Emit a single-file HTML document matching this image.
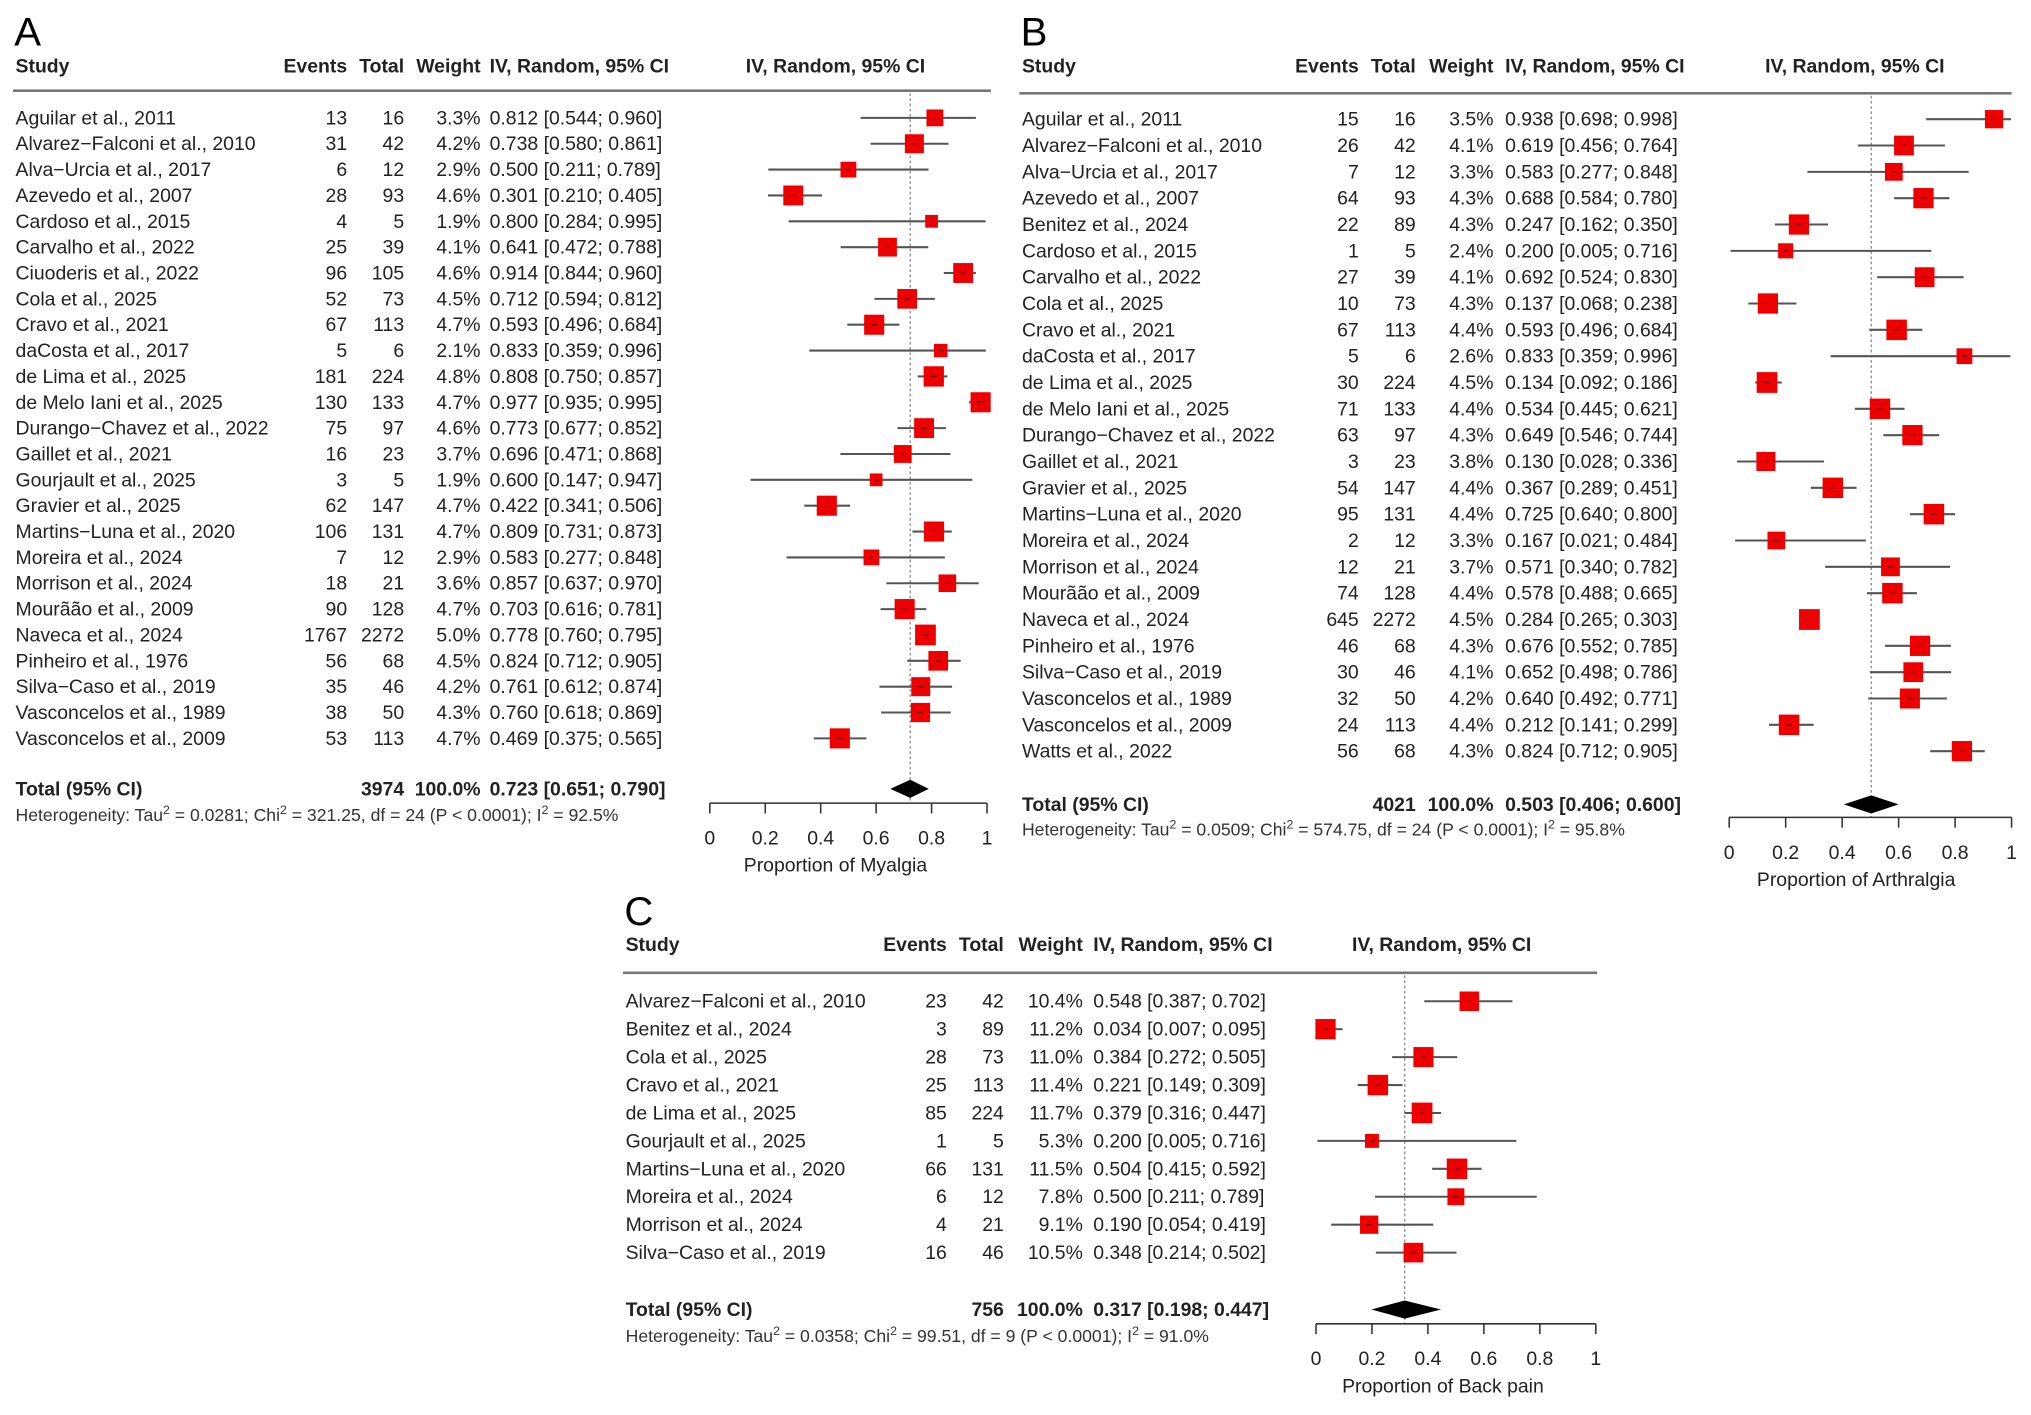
<!DOCTYPE html>
<html><head><meta charset="utf-8"><style>
html,body{margin:0;padding:0;background:#fff}
svg{display:block;font-family:"Liberation Sans",Arial,sans-serif}
</style></head><body>
<svg id="fig" xmlns="http://www.w3.org/2000/svg" width="2031" height="1415" viewBox="0 0 1568 1092.4"></svg>
<script>
const studiesA = ["Aguilar et al., 2011","Alvarez\u2212Falconi et al., 2010","Alva\u2212Urcia et al., 2017","Azevedo et al., 2007","Cardoso et al., 2015","Carvalho et al., 2022","Ciuoderis et al., 2022","Cola et al., 2025","Cravo et al., 2021","daCosta et al., 2017","de Lima et al., 2025","de Melo Iani et al., 2025","Durango\u2212Chavez et al., 2022","Gaillet et al.,  2021","Gourjault  et al., 2025","Gravier et al., 2025","Martins\u2212Luna et al., 2020","Moreira et al., 2024","Morrison et al., 2024","Mour\u00e3\u00e3o et al., 2009","Naveca et al., 2024","Pinheiro et al., 1976","Silva\u2212Caso et al., 2019","Vasconcelos et al., 1989","Vasconcelos et al., 2009"];
const eventsA = [13,31,6,28,4,25,96,52,67,5,181,130,75,16,3,62,106,7,18,90,1767,56,35,38,53];
const totalsA = [16,42,12,93,5,39,105,73,113,6,224,133,97,23,5,147,131,12,21,128,2272,68,46,50,113];
const weightsA = [3.3,4.2,2.9,4.6,1.9,4.1,4.6,4.5,4.7,2.1,4.8,4.7,4.6,3.7,1.9,4.7,4.7,2.9,3.6,4.7,5.0,4.5,4.2,4.3,4.7];
const estA = [0.812,0.738,0.500,0.301,0.800,0.641,0.914,0.712,0.593,0.833,0.808,0.977,0.773,0.696,0.600,0.422,0.809,0.583,0.857,0.703,0.778,0.824,0.761,0.760,0.469];
const lowA = [0.544,0.580,0.211,0.210,0.284,0.472,0.844,0.594,0.496,0.359,0.750,0.935,0.677,0.471,0.147,0.341,0.731,0.277,0.637,0.616,0.760,0.712,0.612,0.618,0.375];
const highA = [0.960,0.861,0.789,0.405,0.995,0.788,0.960,0.812,0.684,0.996,0.857,0.995,0.852,0.868,0.947,0.506,0.873,0.848,0.970,0.781,0.795,0.905,0.874,0.869,0.565];
const pooledA = [0.723,0.651,0.790];

const studiesB = ["Aguilar et al., 2011","Alvarez\u2212Falconi et al., 2010","Alva\u2212Urcia et al., 2017","Azevedo et al., 2007","Benitez et al., 2024","Cardoso et al., 2015","Carvalho et al., 2022","Cola et al., 2025","Cravo et al., 2021","daCosta et al., 2017","de Lima et al., 2025","de Melo Iani et al., 2025","Durango\u2212Chavez et al., 2022","Gaillet et al.,  2021","Gravier et al., 2025","Martins\u2212Luna et al., 2020","Moreira et al., 2024","Morrison et al., 2024","Mour\u00e3\u00e3o et al., 2009","Naveca et al., 2024","Pinheiro et al., 1976","Silva\u2212Caso et al., 2019","Vasconcelos et al., 1989","Vasconcelos et al., 2009","Watts et al., 2022"];
const eventsB = [15,26,7,64,22,1,27,10,67,5,30,71,63,3,54,95,2,12,74,645,46,30,32,24,56];
const totalsB = [16,42,12,93,89,5,39,73,113,6,224,133,97,23,147,131,12,21,128,2272,68,46,50,113,68];
const weightsB = [3.5,4.1,3.3,4.3,4.3,2.4,4.1,4.3,4.4,2.6,4.5,4.4,4.3,3.8,4.4,4.4,3.3,3.7,4.4,4.5,4.3,4.1,4.2,4.4,4.3];
const estB = [0.938,0.619,0.583,0.688,0.247,0.200,0.692,0.137,0.593,0.833,0.134,0.534,0.649,0.130,0.367,0.725,0.167,0.571,0.578,0.284,0.676,0.652,0.640,0.212,0.824];
const lowB = [0.698,0.456,0.277,0.584,0.162,0.005,0.524,0.068,0.496,0.359,0.092,0.445,0.546,0.028,0.289,0.640,0.021,0.340,0.488,0.265,0.552,0.498,0.492,0.141,0.712];
const highB = [0.998,0.764,0.848,0.780,0.350,0.716,0.830,0.238,0.684,0.996,0.186,0.621,0.744,0.336,0.451,0.800,0.484,0.782,0.665,0.303,0.785,0.786,0.771,0.299,0.905];
const pooledB = [0.503,0.406,0.600];

const studiesC = ["Alvarez\u2212Falconi et al., 2010","Benitez et al., 2024","Cola et al., 2025","Cravo et al., 2021","de Lima et al., 2025","Gourjault  et al., 2025","Martins\u2212Luna et al., 2020","Moreira et al., 2024","Morrison et al., 2024","Silva\u2212Caso et al., 2019"];
const eventsC = [23,3,28,25,85,1,66,6,4,16];
const totalsC = [42,89,73,113,224,5,131,12,21,46];
const weightsC = [10.4,11.2,11.0,11.4,11.7,5.3,11.5,7.8,9.1,10.5];
const estC = [0.548,0.034,0.384,0.221,0.379,0.200,0.504,0.500,0.190,0.348];
const lowC = [0.387,0.007,0.272,0.149,0.316,0.005,0.415,0.211,0.054,0.214];
const highC = [0.702,0.095,0.505,0.309,0.447,0.716,0.592,0.789,0.419,0.502];
const pooledC = [0.317,0.198,0.447];

const tickLabels = ["0","0.2","0.4","0.6","0.8","1"];
const tickVals = [0,0.2,0.4,0.6,0.8,1];

const NS="http://www.w3.org/2000/svg";
const svg=document.getElementById('fig');
function el(tag,attrs,parent,txt){const e=document.createElementNS(NS,tag);for(const k in attrs)e.setAttribute(k,attrs[k]);if(txt!==undefined)e.textContent=txt;(parent||svg).appendChild(e);return e;}
function f3(v){return v.toFixed(3);}
const FS=15;

function panel(cfg){
  const g=el('g',{});
  
  
  const L=el('text',{x:cfg.x0-1,y:cfg.letterY,'font-size':31},g,cfg.letter);
  
  const hdr=el('g',{'font-size':FS,'font-weight':'bold',fill:'#222'},g);
  
  el('text',{x:cfg.x0,y:cfg.hY},hdr,'Study');
  el('text',{x:cfg.cEv,y:cfg.hY,'text-anchor':'end'},hdr,'Events');
  el('text',{x:cfg.cTot,y:cfg.hY,'text-anchor':'end'},hdr,'Total');
  el('text',{x:cfg.cW,y:cfg.hY,'text-anchor':'end'},hdr,'Weight');
  el('text',{x:cfg.cCI,y:cfg.hY},hdr,'IV, Random, 95% CI');
  el('text',{x:cfg.plotHdr,y:cfg.hY,'text-anchor':'middle'},hdr,'IV, Random, 95% CI');
  const hl=el('line',{x1:cfg.x0-2,x2:cfg.lineEnd,y1:cfg.lineY,y2:cfg.lineY,stroke:'#777','stroke-width':2},g);
  
  const sx=v=>cfg.ax0+v*(cfg.ax1-cfg.ax0);
  const wmax=Math.max(...cfg.w);
  const ry=i=>cfg.r0+i*cfg.dr;
  const ref=el('line',{x1:sx(cfg.pooled[0]),x2:sx(cfg.pooled[0]),y1:cfg.lineY+2,y2:cfg.axY,stroke:'#888','stroke-width':1,'stroke-dasharray':'2,2'},g);
  
  cfg.s.forEach((name,i)=>{
    const y=ry(i);
    const row=el('g',{'font-size':FS,fill:'#222'},g);
    
    el('text',{x:cfg.x0,y:y+5},row,name);
    el('text',{x:cfg.cEv,y:y+5,'text-anchor':'end'},row,cfg.e[i]);
    el('text',{x:cfg.cTot,y:y+5,'text-anchor':'end'},row,cfg.t[i]);
    el('text',{x:cfg.cW,y:y+5,'text-anchor':'end'},row,cfg.w[i].toFixed(1)+'%');
    el('text',{x:cfg.cCI,y:y+5},row,f3(cfg.est[i])+' ['+f3(cfg.lo[i])+'; '+f3(cfg.hi[i])+']');
    const ci=el('line',{x1:sx(cfg.lo[i]),x2:sx(cfg.hi[i]),y1:y,y2:y,stroke:'#555','stroke-width':1.6},row);
    
    const sz=16*Math.sqrt(cfg.w[i]/wmax);
    const sq=el('rect',{x:sx(cfg.est[i])-sz/2,y:y-sz/2,width:sz,height:sz,fill:'#ee0000'},row);
    
    el('line',{x1:sx(cfg.est[i])-2,x2:sx(cfg.est[i])+2,y1:y,y2:y,stroke:'#600','stroke-width':1},row);
  });
  const tg=el('g',{'font-size':FS,'font-weight':'bold',fill:'#222'},g);
  
  el('text',{x:cfg.x0,y:cfg.totY+5},tg,'Total (95% CI)');
  el('text',{x:cfg.cTot,y:cfg.totY+5,'text-anchor':'end'},tg,cfg.t.reduce((a,b)=>a+b,0));
  el('text',{x:cfg.cW,y:cfg.totY+5,'text-anchor':'end'},tg,'100.0%');
  el('text',{x:cfg.cCI,y:cfg.totY+5},tg,f3(cfg.pooled[0])+' ['+f3(cfg.pooled[1])+'; '+f3(cfg.pooled[2])+']');
  const p=cfg.pooled,ty=cfg.totY;
  const d=el('polygon',{points:`${sx(p[1])},${ty} ${sx(p[0])},${ty-7} ${sx(p[2])},${ty} ${sx(p[0])},${ty+7}`,fill:'#000'},g);
  
  const het=el('text',{x:cfg.x0,y:cfg.hetY+4,'font-size':13.6,fill:'#333'},g);
  
  het.innerHTML=cfg.het;
  const ax=el('g',{},g);
  
  el('line',{x1:sx(0),x2:sx(1),y1:cfg.axY,y2:cfg.axY,stroke:'#333','stroke-width':1.2},ax);
  tickVals.forEach((v,i)=>{
    el('line',{x1:sx(v),x2:sx(v),y1:cfg.axY,y2:cfg.axY+8,stroke:'#333','stroke-width':1.2},ax);
    el('text',{x:sx(v),y:cfg.axY+32,'font-size':FS,'text-anchor':'middle',fill:'#222'},ax,tickLabels[i]);
  });
  const at=el('text',{x:sx(0.5)+cfg.titleOff,y:cfg.axY+53,'font-size':FS,'text-anchor':'middle',fill:'#222'},ax,cfg.title);
  
}
function hetStr(tau,chi,df,i2){return `Heterogeneity: Tau<tspan baseline-shift="super" font-size="9.5">2</tspan> = ${tau}; Chi<tspan baseline-shift="super" font-size="9.5">2</tspan> = ${chi}, df = ${df} (P &lt; 0.0001); I<tspan baseline-shift="super" font-size="9.5">2</tspan> = ${i2}`;}

panel({letter:'A',x0:12,letterY:35,hY:56,cEv:268,cTot:312,cW:371,cCI:378,plotHdr:645,lineY:70,lineEnd:765,
  r0:91,dr:19.96,totY:609,hetY:630,ax0:548,ax1:762,axY:620,titleOff:-10,title:'Proportion of Myalgia',
  s:studiesA,e:eventsA,t:totalsA,w:weightsA,est:estA,lo:lowA,hi:highA,pooled:pooledA,het:hetStr('0.0281','321.25',24,'92.5%')});
panel({letter:'B',x0:789,letterY:35,hY:56,cEv:1049,cTot:1093,cW:1153,cCI:1162,plotHdr:1432,lineY:72,lineEnd:1553,
  r0:92,dr:20.33,totY:621,hetY:641,ax0:1335,ax1:1553,axY:631,titleOff:-11,title:'Proportion of Arthralgia',
  s:studiesB,e:eventsB,t:totalsB,w:weightsB,est:estB,lo:lowB,hi:highB,pooled:pooledB,het:hetStr('0.0509','574.75',24,'95.8%')});
panel({letter:'C',x0:483,letterY:714,hY:734,cEv:731,cTot:775,cW:836,cCI:844,plotHdr:1113,lineY:751,lineEnd:1233,
  r0:773,dr:21.56,totY:1011,hetY:1032,ax0:1016,ax1:1232,axY:1022,titleOff:-10,title:'Proportion of Back pain',
  s:studiesC,e:eventsC,t:totalsC,w:weightsC,est:estC,lo:lowC,hi:highC,pooled:pooledC,het:hetStr('0.0358','99.51',9,'91.0%')});
</script>
</body></html>
